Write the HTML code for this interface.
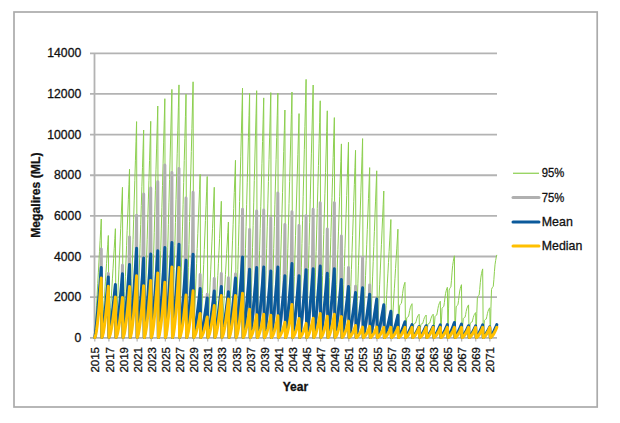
<!DOCTYPE html>
<html><head><meta charset="utf-8"><style>
html,body{margin:0;padding:0;background:#fff;}
body{width:620px;height:423px;overflow:hidden;}
svg{display:block;}
text{font-family:"Liberation Sans",sans-serif;fill:#111;stroke:#111;stroke-width:0.3px;}
.yl{font-size:12.2px;text-anchor:end;}
.xl{font-size:11.5px;text-anchor:end;}
.lg{font-size:12.8px;}
.ttl{font-size:12.2px;font-weight:bold;}
.ttl2{font-size:12px;font-weight:bold;}
</style></head><body>
<svg width="620" height="423" viewBox="0 0 620 423">
<rect x="14" y="12" width="583.2" height="395" fill="#fff" stroke="#ababab" stroke-width="1.7"/>
<line x1="90" y1="337.80" x2="497" y2="337.80" stroke="#b3b3b3" stroke-width="1.8"/>
<line x1="90" y1="297.16" x2="497" y2="297.16" stroke="#b3b3b3" stroke-width="1.8"/>
<line x1="90" y1="256.51" x2="497" y2="256.51" stroke="#b3b3b3" stroke-width="1.8"/>
<line x1="90" y1="215.87" x2="497" y2="215.87" stroke="#b3b3b3" stroke-width="1.8"/>
<line x1="90" y1="175.23" x2="497" y2="175.23" stroke="#b3b3b3" stroke-width="1.8"/>
<line x1="90" y1="134.59" x2="497" y2="134.59" stroke="#b3b3b3" stroke-width="1.8"/>
<line x1="90" y1="93.94" x2="497" y2="93.94" stroke="#b3b3b3" stroke-width="1.8"/>
<line x1="90" y1="53.30" x2="497" y2="53.30" stroke="#b3b3b3" stroke-width="1.8"/>
<line x1="94.5" y1="53" x2="94.5" y2="337.8" stroke="#b3b3b3" stroke-width="1.8"/>
<line x1="94.80" y1="337.5" x2="94.80" y2="341.5" stroke="#b3b3b3" stroke-width="1.2"/>
<line x1="108.91" y1="337.5" x2="108.91" y2="341.5" stroke="#b3b3b3" stroke-width="1.2"/>
<line x1="123.02" y1="337.5" x2="123.02" y2="341.5" stroke="#b3b3b3" stroke-width="1.2"/>
<line x1="137.13" y1="337.5" x2="137.13" y2="341.5" stroke="#b3b3b3" stroke-width="1.2"/>
<line x1="151.24" y1="337.5" x2="151.24" y2="341.5" stroke="#b3b3b3" stroke-width="1.2"/>
<line x1="165.35" y1="337.5" x2="165.35" y2="341.5" stroke="#b3b3b3" stroke-width="1.2"/>
<line x1="179.46" y1="337.5" x2="179.46" y2="341.5" stroke="#b3b3b3" stroke-width="1.2"/>
<line x1="193.57" y1="337.5" x2="193.57" y2="341.5" stroke="#b3b3b3" stroke-width="1.2"/>
<line x1="207.68" y1="337.5" x2="207.68" y2="341.5" stroke="#b3b3b3" stroke-width="1.2"/>
<line x1="221.79" y1="337.5" x2="221.79" y2="341.5" stroke="#b3b3b3" stroke-width="1.2"/>
<line x1="235.90" y1="337.5" x2="235.90" y2="341.5" stroke="#b3b3b3" stroke-width="1.2"/>
<line x1="250.01" y1="337.5" x2="250.01" y2="341.5" stroke="#b3b3b3" stroke-width="1.2"/>
<line x1="264.12" y1="337.5" x2="264.12" y2="341.5" stroke="#b3b3b3" stroke-width="1.2"/>
<line x1="278.23" y1="337.5" x2="278.23" y2="341.5" stroke="#b3b3b3" stroke-width="1.2"/>
<line x1="292.34" y1="337.5" x2="292.34" y2="341.5" stroke="#b3b3b3" stroke-width="1.2"/>
<line x1="306.45" y1="337.5" x2="306.45" y2="341.5" stroke="#b3b3b3" stroke-width="1.2"/>
<line x1="320.56" y1="337.5" x2="320.56" y2="341.5" stroke="#b3b3b3" stroke-width="1.2"/>
<line x1="334.67" y1="337.5" x2="334.67" y2="341.5" stroke="#b3b3b3" stroke-width="1.2"/>
<line x1="348.78" y1="337.5" x2="348.78" y2="341.5" stroke="#b3b3b3" stroke-width="1.2"/>
<line x1="362.89" y1="337.5" x2="362.89" y2="341.5" stroke="#b3b3b3" stroke-width="1.2"/>
<line x1="377.00" y1="337.5" x2="377.00" y2="341.5" stroke="#b3b3b3" stroke-width="1.2"/>
<line x1="391.11" y1="337.5" x2="391.11" y2="341.5" stroke="#b3b3b3" stroke-width="1.2"/>
<line x1="405.22" y1="337.5" x2="405.22" y2="341.5" stroke="#b3b3b3" stroke-width="1.2"/>
<line x1="419.33" y1="337.5" x2="419.33" y2="341.5" stroke="#b3b3b3" stroke-width="1.2"/>
<line x1="433.44" y1="337.5" x2="433.44" y2="341.5" stroke="#b3b3b3" stroke-width="1.2"/>
<line x1="447.55" y1="337.5" x2="447.55" y2="341.5" stroke="#b3b3b3" stroke-width="1.2"/>
<line x1="461.66" y1="337.5" x2="461.66" y2="341.5" stroke="#b3b3b3" stroke-width="1.2"/>
<line x1="475.77" y1="337.5" x2="475.77" y2="341.5" stroke="#b3b3b3" stroke-width="1.2"/>
<line x1="489.88" y1="337.5" x2="489.88" y2="341.5" stroke="#b3b3b3" stroke-width="1.2"/>
<polyline points="94.80,337.50 95.39,326.73 95.98,315.95 96.57,305.18 97.15,294.41 97.74,283.64 98.33,272.86 98.92,262.09 99.51,251.32 100.10,240.55 100.69,229.77 101.27,219.00 101.86,337.50 102.45,328.23 103.04,318.95 103.63,309.68 104.22,300.41 104.81,291.14 105.39,281.86 105.98,272.59 106.57,263.32 107.16,254.05 107.75,244.77 108.34,235.50 108.93,337.50 109.51,327.61 110.10,317.72 110.69,307.83 111.28,297.94 111.87,288.05 112.46,278.15 113.05,268.26 113.63,258.37 114.22,248.48 114.81,238.59 115.40,228.70 115.99,337.50 116.58,323.85 117.17,310.19 117.75,296.54 118.34,282.88 118.93,269.23 119.52,255.57 120.11,241.92 120.70,228.26 121.29,214.61 121.87,200.95 122.46,187.30 123.05,337.50 123.64,322.20 124.23,306.90 124.82,291.60 125.41,276.30 125.99,261.00 126.58,245.70 127.17,230.40 127.76,215.10 128.35,199.80 128.94,184.50 129.53,169.20 130.11,337.50 130.70,317.87 131.29,298.25 131.88,278.62 132.47,258.99 133.06,239.36 133.65,219.74 134.23,200.11 134.82,180.48 135.41,160.85 136.00,141.23 136.59,121.60 137.18,337.50 137.77,318.64 138.35,299.77 138.94,280.91 139.53,262.05 140.12,243.18 140.71,224.32 141.30,205.45 141.89,186.59 142.47,167.73 143.06,148.86 143.65,130.00 144.24,337.50 144.83,317.85 145.42,298.19 146.01,278.54 146.60,258.88 147.18,239.23 147.77,219.57 148.36,199.92 148.95,180.26 149.54,160.61 150.13,140.95 150.72,121.30 151.30,337.50 151.89,316.45 152.48,295.41 153.07,274.36 153.66,253.32 154.25,232.27 154.84,211.23 155.42,190.18 156.01,169.14 156.60,148.09 157.19,127.05 157.78,106.00 158.37,337.50 158.96,315.79 159.54,294.08 160.13,272.37 160.72,250.66 161.31,228.95 161.90,207.25 162.49,185.54 163.08,163.83 163.66,142.12 164.25,120.41 164.84,98.70 165.43,337.50 166.02,314.95 166.61,292.39 167.20,269.84 167.78,247.28 168.37,224.73 168.96,202.17 169.55,179.62 170.14,157.06 170.73,134.51 171.32,111.95 171.90,89.40 172.49,337.50 173.08,314.54 173.67,291.57 174.26,268.61 174.85,245.65 175.44,222.68 176.02,199.72 176.61,176.75 177.20,153.79 177.79,130.83 178.38,107.86 178.97,84.90 179.56,337.50 180.14,315.38 180.73,293.26 181.32,271.15 181.91,249.03 182.50,226.91 183.09,204.79 183.68,182.67 184.26,160.55 184.85,138.44 185.44,116.32 186.03,94.20 186.62,337.50 187.21,314.25 187.80,291.01 188.38,267.76 188.97,244.52 189.56,221.27 190.15,198.03 190.74,174.78 191.33,151.54 191.92,128.29 192.50,105.05 193.09,81.80 193.68,337.50 194.27,322.67 194.86,307.85 195.45,293.02 196.04,278.19 196.62,263.36 197.21,248.54 197.80,233.71 198.39,218.88 198.98,204.05 199.57,189.23 200.16,174.40 200.74,337.50 201.33,322.86 201.92,308.23 202.51,293.59 203.10,278.95 203.69,264.32 204.28,249.68 204.86,235.05 205.45,220.41 206.04,205.77 206.63,191.14 207.22,176.50 207.81,337.50 208.40,323.85 208.98,310.19 209.57,296.54 210.16,282.88 210.75,269.23 211.34,255.57 211.93,241.92 212.52,228.26 213.10,214.61 213.69,200.95 214.28,187.30 214.87,337.50 215.46,325.12 216.05,312.74 216.64,300.35 217.22,287.97 217.81,275.59 218.40,263.21 218.99,250.83 219.58,238.45 220.17,226.06 220.76,213.68 221.34,201.30 221.93,337.50 222.52,327.00 223.11,316.50 223.70,306.00 224.29,295.50 224.88,285.00 225.46,274.50 226.05,264.00 226.64,253.50 227.23,243.00 227.82,232.50 228.41,222.00 229.00,337.50 229.58,321.39 230.17,305.28 230.76,289.17 231.35,273.06 231.94,256.95 232.53,240.85 233.12,224.74 233.70,208.63 234.29,192.52 234.88,176.41 235.47,160.30 236.06,337.50 236.65,314.84 237.24,292.17 237.82,269.51 238.41,246.85 239.00,224.18 239.59,201.52 240.18,178.85 240.77,156.19 241.36,133.53 241.94,110.86 242.53,88.20 243.12,337.50 243.71,315.31 244.30,293.12 244.89,270.93 245.48,248.74 246.07,226.55 246.65,204.35 247.24,182.16 247.83,159.97 248.42,137.78 249.01,115.59 249.60,93.40 250.19,337.50 250.77,315.06 251.36,292.63 251.95,270.19 252.54,247.75 253.13,225.32 253.72,202.88 254.31,180.45 254.89,158.01 255.48,135.57 256.07,113.14 256.66,90.70 257.25,337.50 257.84,315.72 258.43,293.94 259.01,272.15 259.60,250.37 260.19,228.59 260.78,206.81 261.37,185.03 261.96,163.25 262.55,141.46 263.13,119.68 263.72,97.90 264.31,337.50 264.90,315.24 265.49,292.97 266.08,270.71 266.67,248.45 267.25,226.18 267.84,203.92 268.43,181.65 269.02,159.39 269.61,137.13 270.20,114.86 270.79,92.60 271.37,337.50 271.96,315.28 272.55,293.06 273.14,270.85 273.73,248.63 274.32,226.41 274.91,204.19 275.49,181.97 276.08,159.75 276.67,137.54 277.26,115.32 277.85,93.10 278.44,337.50 279.03,316.82 279.61,296.14 280.20,275.45 280.79,254.77 281.38,234.09 281.97,213.41 282.56,192.73 283.15,172.05 283.73,151.36 284.32,130.68 284.91,110.00 285.50,337.50 286.09,315.18 286.68,292.86 287.27,270.55 287.85,248.23 288.44,225.91 289.03,203.59 289.62,181.27 290.21,158.95 290.80,136.64 291.39,114.32 291.97,92.00 292.56,337.50 293.15,317.15 293.74,296.79 294.33,276.44 294.92,256.08 295.51,235.73 296.09,215.37 296.68,195.02 297.27,174.66 297.86,154.31 298.45,133.95 299.04,113.60 299.63,337.50 300.21,314.04 300.80,290.57 301.39,267.11 301.98,243.65 302.57,220.18 303.16,196.72 303.75,173.25 304.33,149.79 304.92,126.33 305.51,102.86 306.10,79.40 306.69,337.50 307.28,314.55 307.87,291.59 308.45,268.64 309.04,245.68 309.63,222.73 310.22,199.77 310.81,176.82 311.40,153.86 311.99,130.91 312.57,107.95 313.16,85.00 313.75,337.50 314.34,315.98 314.93,294.46 315.52,272.95 316.11,251.43 316.69,229.91 317.28,208.39 317.87,186.87 318.46,165.35 319.05,143.84 319.64,122.32 320.23,100.80 320.81,337.50 321.40,316.89 321.99,296.28 322.58,275.67 323.17,255.06 323.76,234.45 324.35,213.85 324.93,193.24 325.52,172.63 326.11,152.02 326.70,131.41 327.29,110.80 327.88,337.50 328.47,317.51 329.05,297.52 329.64,277.53 330.23,257.54 330.82,237.55 331.41,217.55 332.00,197.56 332.59,177.57 333.17,157.58 333.76,137.59 334.35,117.60 334.94,337.50 335.53,319.90 336.12,302.30 336.71,284.70 337.29,267.10 337.88,249.50 338.47,231.90 339.06,214.30 339.65,196.70 340.24,179.10 340.83,161.50 341.41,143.90 342.00,337.50 342.59,319.75 343.18,302.01 343.77,284.26 344.36,266.52 344.95,248.77 345.53,231.03 346.12,213.28 346.71,195.54 347.30,177.79 347.89,160.05 348.48,142.30 349.07,337.50 349.66,320.48 350.24,303.46 350.83,286.45 351.42,269.43 352.01,252.41 352.60,235.39 353.19,218.37 353.78,201.35 354.36,184.34 354.95,167.32 355.54,150.30 356.13,337.50 356.72,319.42 357.31,301.34 357.90,283.25 358.48,265.17 359.07,247.09 359.66,229.01 360.25,210.93 360.84,192.85 361.43,174.76 362.02,156.68 362.60,138.60 363.19,337.50 363.78,322.05 364.37,306.61 364.96,291.16 365.55,275.72 366.14,260.27 366.72,244.83 367.31,229.38 367.90,213.94 368.49,198.49 369.08,183.05 369.67,167.60 370.26,337.50 370.84,322.35 371.43,307.19 372.02,292.04 372.61,276.88 373.20,261.73 373.79,246.57 374.38,231.42 374.96,216.26 375.55,201.11 376.14,185.95 376.73,170.80 377.32,337.50 377.91,324.18 378.50,310.86 379.08,297.55 379.67,284.23 380.26,270.91 380.85,257.59 381.44,244.27 382.03,230.95 382.62,217.64 383.20,204.32 383.79,191.00 384.38,337.50 384.97,326.77 385.56,316.05 386.15,305.32 386.74,294.59 387.32,283.86 387.91,273.14 388.50,262.41 389.09,251.68 389.68,240.95 390.27,230.23 390.86,219.50 391.44,337.50 392.03,327.65 392.62,317.81 393.21,307.96 393.80,298.12 394.39,288.27 394.98,278.43 395.56,268.58 396.15,258.74 396.74,248.89 397.33,239.05 397.92,229.20 398.51,337.50 399.10,318.18 399.68,305.48 400.27,304.38 400.86,303.83 401.45,303.28 402.04,298.86 402.63,293.34 403.22,288.92 403.80,286.16 404.39,283.96 404.98,282.30 405.57,337.50 406.16,325.67 406.75,317.90 407.34,317.22 407.92,316.88 408.51,316.54 409.10,313.84 409.69,310.46 410.28,307.76 410.87,306.07 411.46,304.71 412.04,303.70 412.63,337.50 413.22,329.34 413.81,323.99 414.40,323.52 414.99,323.29 415.58,323.05 416.16,321.19 416.75,318.86 417.34,317.00 417.93,315.83 418.52,314.90 419.11,314.20 419.70,337.50 420.28,329.62 420.87,324.45 421.46,324.00 422.05,323.77 422.64,323.55 423.23,321.75 423.82,319.50 424.40,317.70 424.99,316.57 425.58,315.68 426.17,315.00 426.76,337.50 427.35,329.34 427.94,323.99 428.52,323.52 429.11,323.29 429.70,323.05 430.29,321.19 430.88,318.86 431.47,317.00 432.06,315.83 432.64,314.90 433.23,314.20 433.82,337.50 434.41,324.83 435.00,316.50 435.59,315.78 436.18,315.42 436.76,315.06 437.35,312.16 437.94,308.54 438.53,305.64 439.12,303.83 439.71,302.39 440.30,301.30 440.88,337.50 441.47,319.93 442.06,308.38 442.65,307.38 443.24,306.88 443.83,306.38 444.42,302.36 445.00,297.34 445.59,293.32 446.18,290.81 446.77,288.81 447.36,287.30 447.95,337.50 448.54,308.91 449.13,290.11 449.71,288.48 450.30,287.66 450.89,286.85 451.48,280.31 452.07,272.14 452.66,265.60 453.25,261.52 453.83,258.25 454.42,255.80 455.01,337.50 455.60,319.02 456.19,306.88 456.78,305.82 457.37,305.29 457.95,304.76 458.54,300.54 459.13,295.26 459.72,291.04 460.31,288.40 460.90,286.28 461.49,284.70 462.07,337.50 462.66,326.09 463.25,318.59 463.84,317.94 464.43,317.61 465.02,317.29 465.61,314.68 466.19,311.42 466.78,308.81 467.37,307.18 467.96,305.88 468.55,304.90 469.14,337.50 469.73,328.79 470.31,323.06 470.90,322.56 471.49,322.31 472.08,322.06 472.67,320.07 473.26,317.58 473.85,315.59 474.43,314.34 475.02,313.35 475.61,312.60 476.20,337.50 476.79,313.49 477.38,297.71 477.97,296.34 478.55,295.65 479.14,294.97 479.73,289.48 480.32,282.62 480.91,277.13 481.50,273.70 482.09,270.96 482.67,268.90 483.26,337.50 483.85,327.11 484.44,320.27 485.03,319.68 485.62,319.38 486.21,319.09 486.79,316.71 487.38,313.74 487.97,311.36 488.56,309.88 489.15,308.69 489.74,307.80 490.33,337.50 490.91,308.59 491.50,289.59 492.09,287.94 492.68,287.11 493.27,286.29 493.86,279.68 494.45,271.42 495.03,264.81 495.62,260.68 496.21,257.38 496.80,254.90" fill="none" stroke="#8ccf4f" stroke-width="1.00" stroke-linejoin="round"/>
<polyline points="94.80,337.50 95.39,334.16 95.98,329.82 96.57,325.00 97.15,319.85 97.74,314.43 98.33,308.79 98.92,302.96 99.51,296.96 100.10,290.80 100.69,279.93 101.27,249.10 101.86,337.50 102.45,334.61 103.04,330.85 103.63,326.68 104.22,322.23 104.81,317.54 105.39,312.65 105.98,307.60 106.57,302.41 107.16,297.08 107.75,291.63 108.34,273.40 108.93,337.50 109.51,334.96 110.10,331.66 110.69,328.01 111.28,324.09 111.87,319.98 112.46,315.69 113.05,311.26 113.63,306.70 114.22,302.02 114.81,297.24 115.40,285.50 115.99,337.50 116.58,334.45 117.17,330.49 117.75,326.09 118.34,321.39 118.93,316.45 119.52,311.30 120.11,305.97 120.70,300.49 121.29,294.88 121.87,289.13 122.46,265.20 123.05,337.50 123.64,334.00 124.23,329.47 124.82,324.43 125.41,319.04 125.99,313.38 126.58,307.48 127.17,301.38 127.76,295.10 128.35,288.66 128.94,272.05 129.53,237.00 130.11,337.50 130.70,333.23 131.29,327.70 131.88,321.55 132.47,314.98 133.06,308.06 133.65,300.87 134.23,293.42 134.82,285.76 135.41,277.91 136.00,257.85 136.59,215.20 137.18,337.50 137.77,333.70 138.35,328.76 138.94,323.29 139.53,317.43 140.12,311.27 140.71,304.85 141.30,298.21 141.89,291.39 142.47,279.29 143.06,243.98 143.65,193.90 144.24,337.50 144.83,333.50 145.42,328.31 146.01,322.55 146.60,316.39 147.18,309.91 147.77,303.17 148.36,296.19 148.95,289.01 149.54,276.90 150.13,240.14 150.72,188.00 151.30,337.50 151.89,333.35 152.48,327.96 153.07,321.98 153.66,315.59 154.25,308.86 154.84,301.85 155.42,294.61 156.01,287.15 156.60,274.39 157.19,236.10 157.78,181.80 158.37,337.50 158.96,333.19 159.54,327.61 160.13,321.41 160.72,314.78 161.31,307.80 161.90,300.54 162.49,293.03 163.08,285.30 163.66,267.54 164.25,225.10 164.84,164.90 165.43,337.50 166.02,332.96 166.61,327.07 167.20,320.53 167.78,313.54 168.37,306.18 168.96,298.52 169.55,290.60 170.14,282.45 170.73,270.66 171.32,230.11 171.90,172.60 172.49,337.50 173.08,333.04 173.67,327.25 174.26,320.82 174.85,313.94 175.44,306.71 176.02,299.18 176.61,291.40 177.20,283.38 177.79,269.04 178.38,227.51 178.97,168.60 179.56,337.50 180.14,333.80 180.73,329.01 181.32,323.68 181.91,317.98 182.50,311.99 183.09,305.75 183.68,299.30 184.26,292.66 184.85,280.95 185.44,246.65 186.03,198.00 186.62,337.50 187.21,333.52 187.80,328.35 188.38,322.61 188.97,316.47 189.56,310.01 190.15,303.29 190.74,296.34 191.33,289.18 191.92,278.64 192.50,242.94 193.09,192.30 193.68,337.50 194.27,335.16 194.86,332.13 195.45,328.76 196.04,325.15 196.62,321.36 197.21,317.42 197.80,313.34 198.39,309.14 198.98,304.83 199.57,296.54 200.16,274.60 200.74,337.50 201.33,335.61 201.92,333.16 202.51,330.44 203.10,327.53 203.69,324.47 204.28,321.28 204.86,317.98 205.45,314.59 206.04,311.11 206.63,307.55 207.22,294.30 207.81,337.50 208.40,335.28 208.98,332.39 209.57,329.19 210.16,325.76 210.75,322.16 211.34,318.40 211.93,314.52 212.52,310.53 213.10,306.43 213.69,299.01 214.28,278.40 214.87,337.50 215.46,335.06 216.05,331.90 216.64,328.38 217.22,324.62 217.81,320.67 218.40,316.55 218.99,312.30 219.58,307.92 220.17,303.43 220.76,295.89 221.34,273.60 221.93,337.50 222.52,335.31 223.11,332.48 223.70,329.33 224.29,325.96 224.88,322.42 225.46,318.73 226.05,314.92 226.64,310.99 227.23,306.97 227.82,298.62 228.41,277.80 229.00,337.50 229.58,334.66 230.17,330.97 230.76,326.88 231.35,322.50 231.94,317.90 232.53,313.10 233.12,308.15 233.70,303.05 234.29,297.82 234.88,292.47 235.47,274.10 236.06,337.50 236.65,333.65 237.24,328.66 237.82,323.13 238.41,317.20 239.00,310.97 239.59,304.48 240.18,297.77 240.77,290.87 241.36,283.79 241.94,253.95 242.53,209.20 243.12,337.50 243.71,334.23 244.30,329.99 244.89,325.29 245.48,320.26 246.07,314.96 246.65,309.45 247.24,303.75 247.83,297.88 248.42,291.87 249.01,267.10 249.60,229.40 250.19,337.50 250.77,334.16 251.36,329.82 251.95,325.00 252.54,319.85 253.13,314.43 253.72,308.79 254.31,302.96 254.89,296.96 255.48,286.18 256.07,255.05 256.66,210.90 257.25,337.50 257.84,334.13 258.43,329.76 259.01,324.91 259.60,319.73 260.19,314.27 260.78,308.59 261.37,302.71 261.96,296.67 262.55,285.82 263.13,254.47 263.72,210.00 264.31,337.50 264.90,334.31 265.49,330.18 266.08,325.59 266.67,320.69 267.25,315.52 267.84,310.15 268.43,304.59 269.02,298.87 269.61,289.10 270.20,259.74 270.79,218.10 271.37,337.50 271.96,334.13 272.55,329.76 273.14,324.91 273.73,319.73 274.32,314.27 274.91,308.59 275.49,302.71 276.08,296.67 276.67,278.97 277.26,243.46 277.85,193.10 278.44,337.50 279.03,334.54 279.61,330.71 280.20,326.45 280.79,321.90 281.38,317.11 281.97,312.12 282.56,306.96 283.15,301.65 283.73,291.70 284.32,263.91 284.91,224.50 285.50,337.50 286.09,333.96 286.68,329.38 287.27,324.29 287.85,318.84 288.44,313.11 289.03,307.15 289.62,300.98 290.21,294.64 290.80,286.51 291.39,255.58 291.97,211.70 292.56,337.50 293.15,334.54 293.74,330.71 294.33,326.45 294.92,321.90 295.51,317.11 296.09,312.12 296.68,306.96 297.27,301.65 297.86,292.06 298.45,264.50 299.04,225.40 299.63,337.50 300.21,334.26 300.80,330.05 301.39,325.38 301.98,320.38 302.57,315.13 303.16,309.65 303.75,304.00 304.33,298.17 304.92,288.13 305.51,258.18 306.10,215.70 306.69,337.50 307.28,334.21 307.87,329.95 308.45,325.22 309.04,320.15 309.63,314.83 310.22,309.28 310.81,303.55 311.40,297.65 311.99,285.49 312.57,253.95 313.16,209.20 313.75,337.50 314.34,334.08 314.93,329.64 315.52,324.72 316.11,319.45 316.69,313.91 317.28,308.13 317.87,302.17 318.46,296.03 319.05,282.90 319.64,249.78 320.23,202.80 320.81,337.50 321.40,334.43 321.99,330.44 322.58,326.02 323.17,321.29 323.76,316.31 324.35,311.13 324.93,305.78 325.52,300.26 326.11,293.56 326.70,266.91 327.29,229.10 327.88,337.50 328.47,334.21 329.05,329.95 329.64,325.22 330.23,320.15 330.82,314.83 331.41,309.28 332.00,303.55 332.59,297.65 333.17,282.90 333.76,249.78 334.35,202.80 334.94,337.50 335.53,334.72 336.12,331.12 336.71,327.11 337.29,322.83 337.88,318.33 338.47,313.64 339.06,308.79 339.65,303.80 340.24,296.32 340.83,271.34 341.41,235.90 342.00,337.50 342.59,335.06 343.18,331.90 343.77,328.38 344.36,324.62 344.95,320.67 345.53,316.55 346.12,312.30 346.71,307.92 347.30,303.43 347.89,291.98 348.48,267.60 349.07,337.50 349.66,335.35 350.24,332.57 350.83,329.47 351.42,326.16 352.01,322.68 352.60,319.06 353.19,315.31 353.78,311.46 354.36,307.50 354.95,303.46 355.54,286.20 356.13,337.50 356.72,335.12 357.31,332.04 357.90,328.62 358.48,324.95 359.07,321.10 359.66,317.09 360.25,312.94 360.84,308.67 361.43,304.30 362.02,285.40 362.60,257.50 363.19,337.50 363.78,335.43 364.37,332.75 364.96,329.78 365.55,326.59 366.14,323.24 366.72,319.76 367.31,316.15 367.90,312.44 368.49,308.64 369.08,303.25 369.67,284.90 370.26,337.50 370.84,335.66 371.43,333.28 372.02,330.64 372.61,327.80 373.20,324.83 373.79,321.73 374.38,318.52 374.96,315.23 375.55,311.85 376.14,308.39 376.73,300.60 377.32,337.50 377.91,335.93 378.50,333.90 379.08,331.64 379.67,329.22 380.26,326.68 380.85,324.03 381.44,321.29 382.03,318.47 382.62,315.59 383.20,312.63 383.79,306.20 384.38,337.50 384.97,336.24 385.56,334.61 386.15,332.80 386.74,330.86 387.32,328.82 387.91,326.70 388.50,324.50 389.09,322.25 389.68,319.93 390.27,317.56 390.86,312.70 391.44,337.50 392.03,336.43 392.62,335.05 393.21,333.51 393.80,331.87 394.39,330.14 394.98,328.34 395.56,326.48 396.15,324.57 396.74,322.60 397.33,320.59 397.92,316.70 398.51,337.50 399.10,336.74 399.68,335.76 400.27,334.68 400.86,333.51 401.45,332.29 402.04,331.01 402.63,329.69 403.22,328.34 403.80,326.94 404.39,325.52 404.98,323.20 405.57,337.50 406.16,336.88 406.75,336.08 407.34,335.19 407.92,334.24 408.51,333.24 409.10,332.20 409.69,331.13 410.28,330.02 410.87,328.88 411.46,327.72 412.04,326.10 412.63,337.50 413.22,336.97 413.81,336.29 414.40,335.53 414.99,334.72 415.58,333.87 416.16,332.98 416.75,332.06 417.34,331.12 417.93,330.15 418.52,329.16 419.11,328.00 419.70,337.50 420.28,336.94 420.87,336.20 421.46,335.39 422.05,334.52 422.64,333.61 423.23,332.65 423.82,331.67 424.40,330.66 424.99,329.62 425.58,328.55 426.17,327.20 426.76,337.50 427.35,336.96 427.94,336.26 428.52,335.48 429.11,334.65 429.70,333.77 430.29,332.86 430.88,331.92 431.47,330.95 432.06,329.95 432.64,328.93 433.23,327.70 433.82,337.50 434.41,336.90 435.00,336.12 435.59,335.25 436.18,334.32 436.76,333.34 437.35,332.33 437.94,331.27 438.53,330.19 439.12,329.08 439.71,327.95 440.30,326.40 440.88,337.50 441.47,336.88 442.06,336.08 442.65,335.19 443.24,334.24 443.83,333.24 444.42,332.20 445.00,331.13 445.59,330.02 446.18,328.88 446.77,327.72 447.36,326.10 447.95,337.50 448.54,336.78 449.13,335.85 449.71,334.82 450.30,333.71 450.89,332.55 451.48,331.34 452.07,330.09 452.66,328.80 453.25,327.48 453.83,326.13 454.42,324.00 455.01,337.50 455.60,336.86 456.19,336.03 456.78,335.10 457.37,334.12 457.95,333.08 458.54,332.00 459.13,330.88 459.72,329.73 460.31,328.55 460.90,327.34 461.49,325.60 462.07,337.50 462.66,336.94 463.25,336.20 463.84,335.39 464.43,334.52 465.02,333.61 465.61,332.65 466.19,331.67 466.78,330.66 467.37,329.62 467.96,328.55 468.55,327.20 469.14,337.50 469.73,336.95 470.31,336.23 470.90,335.43 471.49,334.57 472.08,333.67 472.67,332.74 473.26,331.77 473.85,330.77 474.43,329.75 475.02,328.71 475.61,327.40 476.20,337.50 476.79,336.90 477.38,336.12 477.97,335.25 478.55,334.32 479.14,333.34 479.73,332.33 480.32,331.27 480.91,330.19 481.50,329.08 482.09,327.95 482.67,326.40 483.26,337.50 483.85,336.99 484.44,336.32 485.03,335.59 485.62,334.80 486.21,333.97 486.79,333.11 487.38,332.21 487.97,331.29 488.56,330.35 489.15,329.39 489.74,328.30 490.33,337.50 490.91,336.88 491.50,336.08 492.09,335.19 492.68,334.24 493.27,333.24 493.86,332.20 494.45,331.13 495.03,330.02 495.62,328.88 496.21,327.72 496.80,326.10" fill="none" stroke="#b0b0b0" stroke-width="3" stroke-linejoin="round" stroke-linecap="round"/>
<polyline points="94.80,337.50 95.39,333.57 95.98,328.46 96.57,322.80 97.15,316.74 97.74,310.36 98.33,303.73 98.92,296.86 99.51,289.80 100.10,282.56 100.69,275.15 101.27,267.60 101.86,337.50 102.45,334.10 103.04,329.68 103.63,324.78 104.22,319.53 104.81,314.01 105.39,308.27 105.98,302.33 106.57,296.22 107.16,289.95 107.75,283.54 108.34,277.00 108.93,337.50 109.51,334.51 110.10,330.63 110.69,326.33 111.28,321.73 111.87,316.88 112.46,311.84 113.05,306.63 113.63,301.26 114.22,295.76 114.81,290.14 115.40,284.40 115.99,337.50 116.58,333.91 117.17,329.25 117.75,324.08 118.34,318.55 118.93,312.73 119.52,306.67 120.11,300.41 120.70,293.96 121.29,287.35 121.87,280.60 122.46,273.70 123.05,337.50 123.64,333.39 124.23,328.05 124.82,322.13 125.41,315.79 125.99,309.12 126.58,302.18 127.17,295.00 127.76,287.62 128.35,280.04 128.94,272.30 129.53,264.40 130.11,337.50 130.70,332.48 131.29,325.97 131.88,318.74 132.47,311.00 133.06,302.87 133.65,294.40 134.23,285.64 134.82,276.63 135.41,267.39 136.00,257.94 136.59,248.30 137.18,337.50 137.77,333.03 138.35,327.22 138.94,320.78 139.53,313.89 140.12,306.64 140.71,299.09 141.30,291.28 141.89,283.25 142.47,275.01 143.06,266.59 143.65,258.00 144.24,337.50 144.83,332.80 145.42,326.69 146.01,319.92 146.60,312.67 147.18,305.04 147.77,297.11 148.36,288.90 148.95,280.45 149.54,271.79 150.13,262.93 150.72,253.90 151.30,337.50 151.89,332.62 152.48,326.28 153.07,319.24 153.66,311.72 154.25,303.80 154.84,295.56 155.42,287.04 156.01,278.27 156.60,269.28 157.19,260.08 157.78,250.70 158.37,337.50 158.96,332.44 159.54,325.86 160.13,318.57 160.72,310.77 161.31,302.56 161.90,294.01 162.49,285.18 163.08,276.08 163.66,266.76 164.25,257.23 164.84,247.50 165.43,337.50 166.02,332.16 166.61,325.23 167.20,317.54 167.78,309.31 168.37,300.66 168.96,291.65 169.55,282.33 170.14,272.74 170.73,262.91 171.32,252.86 171.90,242.60 172.49,337.50 173.08,332.25 173.67,325.44 174.26,317.88 174.85,309.79 175.44,301.28 176.02,292.42 176.61,283.26 177.20,273.83 177.79,264.17 178.38,254.28 178.97,244.20 179.56,337.50 180.14,333.15 180.73,327.51 181.32,321.24 181.91,314.54 182.50,307.49 183.09,300.15 183.68,292.56 184.26,284.75 184.85,276.74 185.44,268.55 186.03,260.20 186.62,337.50 187.21,332.81 187.80,326.73 188.38,319.98 188.97,312.76 189.56,305.16 190.15,297.25 190.74,289.07 191.33,280.66 191.92,272.03 192.50,263.20 193.09,254.20 193.68,337.50 194.27,334.75 194.86,331.18 195.45,327.22 196.04,322.98 196.62,318.52 197.21,313.87 197.80,309.07 198.39,304.13 198.98,299.06 199.57,293.88 200.16,288.60 200.74,337.50 201.33,335.28 201.92,332.39 202.51,329.19 203.10,325.77 203.69,322.16 204.28,318.41 204.86,314.54 205.45,310.55 206.04,306.45 206.63,302.27 207.22,298.00 207.81,337.50 208.40,334.88 208.98,331.49 209.57,327.72 210.16,323.69 210.75,319.45 211.34,315.03 211.93,310.47 212.52,305.77 213.10,300.95 213.69,296.03 214.28,291.00 214.87,337.50 215.46,334.63 216.05,330.91 216.64,326.77 217.22,322.35 217.81,317.70 218.40,312.86 218.99,307.85 219.58,302.70 220.17,297.41 220.76,292.01 221.34,286.50 221.93,337.50 222.52,334.93 223.11,331.59 223.70,327.89 224.29,323.93 224.88,319.76 225.46,315.42 226.05,310.93 226.64,306.31 227.23,301.58 227.82,296.74 228.41,291.80 229.00,337.50 229.58,334.16 230.17,329.82 230.76,325.01 231.35,319.86 231.94,314.44 232.53,308.80 233.12,302.97 233.70,296.97 234.29,290.81 234.88,284.52 235.47,278.10 236.06,337.50 236.65,332.98 237.24,327.11 237.82,320.59 238.41,313.62 239.00,306.29 239.59,298.65 240.18,290.76 240.77,282.64 241.36,274.31 241.94,265.79 242.53,257.10 243.12,337.50 243.71,333.66 244.30,328.67 244.89,323.14 245.48,317.21 246.07,310.98 246.65,304.50 247.24,297.79 247.83,290.89 248.42,283.82 249.01,276.58 249.60,269.20 250.19,337.50 250.77,333.57 251.36,328.46 251.95,322.80 252.54,316.74 253.13,310.36 253.72,303.73 254.31,296.86 254.89,289.80 255.48,282.56 256.07,275.15 256.66,267.60 257.25,337.50 257.84,333.54 258.43,328.40 259.01,322.69 259.60,316.59 260.19,310.17 260.78,303.48 261.37,296.57 261.96,289.46 262.55,282.17 263.13,274.71 263.72,267.10 264.31,337.50 264.90,333.75 265.49,328.89 266.08,323.49 266.67,317.72 267.25,311.64 267.84,305.32 268.43,298.78 269.02,292.05 269.61,285.15 270.20,278.10 270.79,270.90 271.37,337.50 271.96,333.54 272.55,328.40 273.14,322.69 273.73,316.59 274.32,310.17 274.91,303.48 275.49,296.57 276.08,289.46 276.67,282.17 277.26,274.71 277.85,267.10 278.44,337.50 279.03,334.02 279.61,329.51 280.20,324.50 280.79,319.14 281.38,313.51 281.97,307.64 282.56,301.57 283.15,295.33 283.73,288.93 284.32,282.38 284.91,275.70 285.50,337.50 286.09,333.34 286.68,327.95 287.27,321.96 287.85,315.55 288.44,308.81 289.03,301.79 289.62,294.54 290.21,287.07 290.80,279.41 291.39,271.59 291.97,263.60 292.56,337.50 293.15,334.02 293.74,329.51 294.33,324.50 294.92,319.14 295.51,313.51 296.09,307.64 296.68,301.57 297.27,295.33 297.86,288.93 298.45,282.38 299.04,275.70 299.63,337.50 300.21,333.68 300.80,328.73 301.39,323.24 301.98,317.36 302.57,311.18 303.16,304.74 303.75,298.08 304.33,291.23 304.92,284.21 305.51,277.03 306.10,269.70 306.69,337.50 307.28,333.63 307.87,328.62 308.45,323.05 309.04,317.09 309.63,310.83 310.22,304.31 310.81,297.56 311.40,290.62 311.99,283.50 312.57,276.22 313.16,268.80 313.75,337.50 314.34,333.48 314.93,328.26 315.52,322.46 316.11,316.26 316.69,309.74 317.28,302.95 317.87,295.93 318.46,288.71 319.05,281.30 319.64,273.73 320.23,266.00 320.81,337.50 321.40,333.89 321.99,329.20 322.58,324.00 323.17,318.43 323.76,312.58 324.35,306.48 324.93,300.18 325.52,293.69 326.11,287.04 326.70,280.24 327.29,273.30 327.88,337.50 328.47,333.63 329.05,328.62 329.64,323.05 330.23,317.09 330.82,310.83 331.41,304.31 332.00,297.56 332.59,290.62 333.17,283.50 333.76,276.22 334.35,268.80 334.94,337.50 335.53,334.23 336.12,329.99 336.71,325.28 337.29,320.24 337.88,314.94 338.47,309.43 339.06,303.72 339.65,297.85 340.24,291.83 340.83,285.68 341.41,279.40 342.00,337.50 342.59,334.63 343.18,330.91 343.77,326.77 344.36,322.35 344.95,317.70 345.53,312.86 346.12,307.85 346.71,302.70 347.30,297.41 347.89,292.01 348.48,286.50 349.07,337.50 349.66,334.97 350.24,331.69 350.83,328.06 351.42,324.16 352.01,320.07 352.60,315.81 353.19,311.40 353.78,306.86 354.36,302.21 354.95,297.45 355.54,292.60 356.13,337.50 356.72,334.70 357.31,331.07 357.90,327.05 358.48,322.74 359.07,318.20 359.66,313.49 360.25,308.61 360.84,303.58 361.43,298.44 362.02,293.17 362.60,287.80 363.19,337.50 363.78,335.07 364.37,331.91 364.96,328.41 365.55,324.67 366.14,320.73 366.72,316.63 367.31,312.39 367.90,308.02 368.49,303.55 369.08,298.97 369.67,294.30 370.26,337.50 370.84,335.34 371.43,332.54 372.02,329.42 372.61,326.09 373.20,322.59 373.79,318.95 374.38,315.18 374.96,311.30 375.55,307.32 376.14,303.25 376.73,299.10 377.32,337.50 377.91,335.65 378.50,333.26 379.08,330.60 379.67,327.76 380.26,324.77 380.85,321.65 381.44,318.43 382.03,315.12 382.62,311.72 383.20,308.24 383.79,304.70 384.38,337.50 384.97,336.02 385.56,334.10 386.15,331.97 386.74,329.69 387.32,327.29 387.91,324.79 388.50,322.21 389.09,319.55 389.68,316.83 390.27,314.04 390.86,311.20 391.44,337.50 392.03,336.25 392.62,334.62 393.21,332.81 393.80,330.88 394.39,328.84 394.98,326.73 395.56,324.54 396.15,322.28 396.74,319.97 397.33,317.61 397.92,315.20 398.51,337.50 399.10,336.61 399.68,335.46 400.27,334.18 400.86,332.81 401.45,331.37 402.04,329.87 402.63,328.31 403.22,326.72 403.80,325.08 404.39,323.41 404.98,321.70 405.57,337.50 406.16,336.77 406.75,335.83 407.34,334.79 407.92,333.67 408.51,332.49 409.10,331.27 409.69,330.00 410.28,328.70 410.87,327.36 411.46,325.99 412.04,324.60 412.63,337.50 413.22,336.88 413.81,336.08 414.40,335.19 414.99,334.23 415.58,333.23 416.16,332.19 416.75,331.11 417.34,329.99 417.93,328.85 418.52,327.69 419.11,326.50 419.70,337.50 420.28,336.84 420.87,335.97 421.46,335.02 422.05,334.00 422.64,332.92 423.23,331.80 423.82,330.64 424.40,329.45 424.99,328.23 425.58,326.98 426.17,325.70 426.76,337.50 427.35,336.86 427.94,336.04 428.52,335.12 429.11,334.14 429.70,333.11 430.29,332.04 430.88,330.93 431.47,329.79 432.06,328.62 432.64,327.42 433.23,326.20 433.82,337.50 434.41,336.79 435.00,335.87 435.59,334.85 436.18,333.76 436.76,332.61 437.35,331.41 437.94,330.17 438.53,328.90 439.12,327.60 439.71,326.26 440.30,324.90 440.88,337.50 441.47,336.77 442.06,335.83 442.65,334.79 443.24,333.67 443.83,332.49 444.42,331.27 445.00,330.00 445.59,328.70 446.18,327.36 446.77,325.99 447.36,324.60 447.95,337.50 448.54,336.66 449.13,335.56 449.71,334.35 450.30,333.04 450.89,331.68 451.48,330.25 452.07,328.78 452.66,327.26 453.25,325.71 453.83,324.12 454.42,322.50 455.01,337.50 455.60,336.75 456.19,335.77 456.78,334.68 457.37,333.52 457.95,332.30 458.54,331.03 459.13,329.71 459.72,328.36 460.31,326.97 460.90,325.55 461.49,324.10 462.07,337.50 462.66,336.84 463.25,335.97 463.84,335.02 464.43,334.00 465.02,332.92 465.61,331.80 466.19,330.64 466.78,329.45 467.37,328.23 467.96,326.98 468.55,325.70 469.14,337.50 469.73,336.85 470.31,336.00 470.90,335.06 471.49,334.05 472.08,333.00 472.67,331.90 473.26,330.76 473.85,329.58 474.43,328.38 475.02,327.15 475.61,325.90 476.20,337.50 476.79,336.79 477.38,335.87 477.97,334.85 478.55,333.76 479.14,332.61 479.73,331.41 480.32,330.17 480.91,328.90 481.50,327.60 482.09,326.26 482.67,324.90 483.26,337.50 483.85,336.90 484.44,336.12 485.03,335.25 485.62,334.32 486.21,333.35 486.79,332.33 487.38,331.28 487.97,330.20 488.56,329.09 489.15,327.96 489.74,326.80 490.33,337.50 490.91,336.77 491.50,335.83 492.09,334.79 492.68,333.67 493.27,332.49 493.86,331.27 494.45,330.00 495.03,328.70 495.62,327.36 496.21,325.99 496.80,324.60" fill="none" stroke="#0b5a9b" stroke-width="3" stroke-linejoin="round" stroke-linecap="round"/>
<polyline points="94.80,337.50 95.39,336.22 95.98,333.62 96.57,330.07 97.15,325.73 97.74,320.68 98.33,314.98 98.92,308.68 99.51,301.81 100.10,294.41 100.69,286.50 101.27,278.10 101.86,337.50 102.45,336.39 103.04,334.15 103.63,331.08 104.22,327.33 104.81,322.97 105.39,318.05 105.98,312.61 106.57,306.68 107.16,300.29 107.75,293.46 108.34,286.20 108.93,337.50 109.51,336.63 110.10,334.86 110.69,332.45 111.28,329.49 111.87,326.06 112.46,322.18 113.05,317.90 113.63,313.23 114.22,308.20 114.81,302.81 115.40,297.10 115.99,337.50 116.58,336.64 117.17,334.88 117.75,332.50 118.34,329.57 118.93,326.17 119.52,322.33 120.11,318.09 120.70,313.47 121.29,308.49 121.87,303.16 122.46,297.50 123.05,337.50 123.64,336.40 124.23,334.17 124.82,331.12 125.41,327.39 125.99,323.06 126.58,318.16 127.17,312.75 127.76,306.86 128.35,300.51 128.94,293.71 129.53,286.50 130.11,337.50 130.70,336.17 131.29,333.47 131.88,329.78 132.47,325.27 133.06,320.03 133.65,314.11 134.23,307.56 134.82,300.43 135.41,292.74 136.00,284.53 136.59,275.80 137.18,337.50 137.77,336.38 138.35,334.11 138.94,331.02 139.53,327.23 140.12,322.83 140.71,317.86 141.30,312.37 141.89,306.38 142.47,299.93 143.06,293.03 143.65,285.70 144.24,337.50 144.83,336.27 145.42,333.77 146.01,330.36 146.60,326.18 147.18,321.33 147.77,315.85 148.36,309.79 148.95,303.20 149.54,296.08 150.13,288.48 150.72,280.40 151.30,337.50 151.89,336.11 152.48,333.28 153.07,329.42 153.66,324.70 154.25,319.20 154.84,313.01 155.42,306.16 156.01,298.69 156.60,290.64 157.19,282.04 157.78,272.90 158.37,337.50 158.96,336.31 159.54,333.89 160.13,330.60 160.72,326.56 161.31,321.87 161.90,316.57 162.49,310.72 163.08,304.34 163.66,297.46 164.25,290.11 164.84,282.30 165.43,337.50 166.02,335.98 166.61,332.90 167.20,328.69 167.78,323.55 168.37,317.56 168.96,310.81 169.55,303.34 170.14,295.21 170.73,286.43 171.32,277.06 171.90,267.10 172.49,337.50 173.08,335.99 173.67,332.92 174.26,328.74 174.85,323.63 175.44,317.67 176.02,310.96 176.61,303.54 177.20,295.45 177.79,286.72 178.38,277.40 178.97,267.50 179.56,337.50 180.14,336.59 180.73,334.73 181.32,332.20 181.91,329.10 182.50,325.49 183.09,321.42 183.68,316.93 184.26,312.03 184.85,306.74 185.44,301.10 186.03,295.10 186.62,337.50 187.21,336.49 187.80,334.45 188.38,331.66 188.97,328.24 189.56,324.27 190.15,319.79 190.74,314.84 191.33,309.44 191.92,303.63 192.50,297.41 193.09,290.80 193.68,337.50 194.27,336.98 194.86,335.92 195.45,334.49 196.04,332.72 196.62,330.67 197.21,328.36 197.80,325.81 198.39,323.02 198.98,320.02 199.57,316.81 200.16,313.40 200.74,337.50 201.33,337.06 201.92,336.15 202.51,334.92 203.10,333.42 203.69,331.67 204.28,329.69 204.86,327.50 205.45,325.12 206.04,322.56 206.63,319.81 207.22,316.90 207.81,337.50 208.40,336.81 208.98,335.41 209.57,333.51 210.16,331.18 210.75,328.47 211.34,325.41 211.93,322.02 212.52,318.34 213.10,314.36 213.69,310.11 214.28,305.60 214.87,337.50 215.46,336.60 216.05,334.76 216.64,332.26 217.22,329.20 217.81,325.63 218.40,321.61 218.99,317.17 219.58,312.33 220.17,307.11 220.76,301.53 221.34,295.60 221.93,337.50 222.52,336.67 223.11,334.98 223.70,332.67 224.29,329.85 224.88,326.57 225.46,322.86 226.05,318.77 226.64,314.31 227.23,309.50 227.82,304.36 228.41,298.90 229.00,337.50 229.58,336.60 230.17,334.76 230.76,332.26 231.35,329.20 231.94,325.63 232.53,321.61 233.12,317.17 233.70,312.33 234.29,307.11 234.88,301.53 235.47,295.60 236.06,337.50 236.65,336.54 237.24,334.60 237.82,331.96 238.41,328.72 239.00,324.95 239.59,320.70 240.18,316.01 240.77,310.89 241.36,305.37 241.94,299.47 242.53,293.20 243.12,337.50 243.71,336.89 244.30,335.66 244.89,333.97 245.48,331.91 246.07,329.51 246.65,326.81 247.24,323.82 247.83,320.56 248.42,317.04 249.01,313.29 249.60,309.30 250.19,337.50 250.77,337.01 251.36,336.01 251.95,334.65 252.54,332.98 253.13,331.04 253.72,328.86 254.31,326.44 254.89,323.80 255.48,320.96 256.07,317.92 256.66,314.70 257.25,337.50 257.84,337.00 258.43,335.98 259.01,334.59 259.60,332.88 260.19,330.90 260.78,328.67 261.37,326.19 261.96,323.50 262.55,320.60 263.13,317.50 263.72,314.20 264.31,337.50 264.90,337.02 265.49,336.05 266.08,334.72 266.67,333.10 267.25,331.21 267.84,329.08 268.43,326.73 269.02,324.16 269.61,321.40 270.20,318.44 270.79,315.30 271.37,337.50 271.96,337.03 272.55,336.08 273.14,334.79 273.73,333.20 274.32,331.35 274.91,329.27 275.49,326.97 276.08,324.46 276.67,321.76 277.26,318.87 277.85,315.80 278.44,337.50 279.03,337.17 279.61,336.50 280.20,335.59 280.79,334.47 281.38,333.17 281.97,331.70 282.56,330.08 283.15,328.31 283.73,326.40 284.32,324.36 284.91,322.20 285.50,337.50 286.09,336.79 286.68,335.34 287.27,333.37 287.85,330.96 288.44,328.15 289.03,324.99 289.62,321.49 290.21,317.67 290.80,313.56 291.39,309.17 291.97,304.50 292.56,337.50 293.15,337.09 293.74,336.26 294.33,335.12 294.92,333.73 295.51,332.12 296.09,330.30 296.68,328.28 297.27,326.09 297.86,323.72 298.45,321.19 299.04,318.50 299.63,337.50 300.21,337.20 300.80,336.58 301.39,335.74 301.98,334.71 302.57,333.51 303.16,332.15 303.75,330.66 304.33,329.03 304.92,327.27 305.51,325.39 306.10,323.40 306.69,337.50 307.28,337.08 307.87,336.24 308.45,335.09 309.04,333.68 309.63,332.03 310.22,330.18 310.81,328.14 311.40,325.90 311.99,323.50 312.57,320.93 313.16,318.20 313.75,337.50 314.34,336.98 314.93,335.92 315.52,334.49 316.11,332.72 316.69,330.67 317.28,328.36 317.87,325.81 318.46,323.02 319.05,320.02 319.64,316.81 320.23,313.40 320.81,337.50 321.40,337.04 321.99,336.11 322.58,334.85 323.17,333.30 323.76,331.50 324.35,329.46 324.93,327.21 325.52,324.76 326.11,322.12 326.70,319.30 327.29,316.30 327.88,337.50 328.47,337.00 329.05,335.98 329.64,334.59 330.23,332.88 330.82,330.90 331.41,328.67 332.00,326.19 332.59,323.50 333.17,320.60 333.76,317.50 334.35,314.20 334.94,337.50 335.53,337.05 336.12,336.13 336.71,334.89 337.29,333.36 337.88,331.58 338.47,329.58 339.06,327.36 339.65,324.94 340.24,322.34 340.83,319.56 341.41,316.60 342.00,337.50 342.59,337.15 343.18,336.43 343.77,335.45 344.36,334.25 344.95,332.86 345.53,331.28 346.12,329.54 346.71,327.65 347.30,325.60 347.89,323.42 348.48,321.10 349.07,337.50 349.66,337.24 350.24,336.72 350.83,336.00 351.42,335.12 352.01,334.10 352.60,332.95 353.19,331.68 353.78,330.29 354.36,328.80 354.95,327.20 355.54,325.50 356.13,337.50 356.72,337.28 357.31,336.82 357.90,336.20 358.48,335.44 359.07,334.55 359.66,333.56 360.25,332.45 360.84,331.25 361.43,329.96 362.02,328.57 362.60,327.10 363.19,337.50 363.78,337.26 364.37,336.77 364.96,336.10 365.55,335.28 366.14,334.33 366.72,333.25 367.31,332.07 367.90,330.77 368.49,329.38 369.08,327.88 369.67,326.30 370.26,337.50 370.84,337.28 371.43,336.82 372.02,336.20 372.61,335.44 373.20,334.55 373.79,333.56 374.38,332.45 374.96,331.25 375.55,329.96 376.14,328.57 376.73,327.10 377.32,337.50 377.91,337.28 378.50,336.83 379.08,336.22 379.67,335.48 380.26,334.61 380.85,333.63 381.44,332.55 382.03,331.37 382.62,330.10 383.20,328.74 383.79,327.30 384.38,337.50 384.97,337.28 385.56,336.83 386.15,336.22 386.74,335.48 387.32,334.61 387.91,333.63 388.50,332.55 389.09,331.37 389.68,330.10 390.27,328.74 390.86,327.30 391.44,337.50 392.03,337.28 392.62,336.83 393.21,336.22 393.80,335.48 394.39,334.61 394.98,333.63 395.56,332.55 396.15,331.37 396.74,330.10 397.33,328.74 397.92,327.30 398.51,337.50 399.10,337.28 399.68,336.83 400.27,336.22 400.86,335.48 401.45,334.61 402.04,333.63 402.63,332.55 403.22,331.37 403.80,330.10 404.39,328.74 404.98,327.30 405.57,337.50 406.16,337.28 406.75,336.83 407.34,336.22 407.92,335.48 408.51,334.61 409.10,333.63 409.69,332.55 410.28,331.37 410.87,330.10 411.46,328.74 412.04,327.30 412.63,337.50 413.22,337.28 413.81,336.83 414.40,336.22 414.99,335.48 415.58,334.61 416.16,333.63 416.75,332.55 417.34,331.37 417.93,330.10 418.52,328.74 419.11,327.30 419.70,337.50 420.28,337.28 420.87,336.83 421.46,336.22 422.05,335.48 422.64,334.61 423.23,333.63 423.82,332.55 424.40,331.37 424.99,330.10 425.58,328.74 426.17,327.30 426.76,337.50 427.35,337.28 427.94,336.83 428.52,336.22 429.11,335.48 429.70,334.61 430.29,333.63 430.88,332.55 431.47,331.37 432.06,330.10 432.64,328.74 433.23,327.30 433.82,337.50 434.41,337.28 435.00,336.83 435.59,336.22 436.18,335.48 436.76,334.61 437.35,333.63 437.94,332.55 438.53,331.37 439.12,330.10 439.71,328.74 440.30,327.30 440.88,337.50 441.47,337.28 442.06,336.83 442.65,336.22 443.24,335.48 443.83,334.61 444.42,333.63 445.00,332.55 445.59,331.37 446.18,330.10 446.77,328.74 447.36,327.30 447.95,337.50 448.54,337.28 449.13,336.83 449.71,336.22 450.30,335.48 450.89,334.61 451.48,333.63 452.07,332.55 452.66,331.37 453.25,330.10 453.83,328.74 454.42,327.30 455.01,337.50 455.60,337.28 456.19,336.83 456.78,336.22 457.37,335.48 457.95,334.61 458.54,333.63 459.13,332.55 459.72,331.37 460.31,330.10 460.90,328.74 461.49,327.30 462.07,337.50 462.66,337.28 463.25,336.83 463.84,336.22 464.43,335.48 465.02,334.61 465.61,333.63 466.19,332.55 466.78,331.37 467.37,330.10 467.96,328.74 468.55,327.30 469.14,337.50 469.73,337.28 470.31,336.83 470.90,336.22 471.49,335.48 472.08,334.61 472.67,333.63 473.26,332.55 473.85,331.37 474.43,330.10 475.02,328.74 475.61,327.30 476.20,337.50 476.79,337.28 477.38,336.83 477.97,336.22 478.55,335.48 479.14,334.61 479.73,333.63 480.32,332.55 480.91,331.37 481.50,330.10 482.09,328.74 482.67,327.30 483.26,337.50 483.85,337.28 484.44,336.83 485.03,336.22 485.62,335.48 486.21,334.61 486.79,333.63 487.38,332.55 487.97,331.37 488.56,330.10 489.15,328.74 489.74,327.30 490.33,337.50 490.91,337.28 491.50,336.83 492.09,336.22 492.68,335.48 493.27,334.61 493.86,333.63 494.45,332.55 495.03,331.37 495.62,330.10 496.21,328.74 496.80,327.30" fill="none" stroke="#ffc000" stroke-width="3" stroke-linejoin="round" stroke-linecap="round"/>
<text x="81.2" y="341.90" class="yl">0</text>
<text x="81.2" y="301.26" class="yl">2000</text>
<text x="81.2" y="260.61" class="yl">4000</text>
<text x="81.2" y="219.97" class="yl">6000</text>
<text x="81.2" y="179.33" class="yl">8000</text>
<text x="81.2" y="138.69" class="yl">10000</text>
<text x="81.2" y="98.04" class="yl">12000</text>
<text x="81.2" y="57.40" class="yl">14000</text>
<text transform="translate(99.40,347.0) rotate(-90)" class="xl">2015</text>
<text transform="translate(113.51,347.0) rotate(-90)" class="xl">2017</text>
<text transform="translate(127.62,347.0) rotate(-90)" class="xl">2019</text>
<text transform="translate(141.73,347.0) rotate(-90)" class="xl">2021</text>
<text transform="translate(155.84,347.0) rotate(-90)" class="xl">2023</text>
<text transform="translate(169.95,347.0) rotate(-90)" class="xl">2025</text>
<text transform="translate(184.06,347.0) rotate(-90)" class="xl">2027</text>
<text transform="translate(198.17,347.0) rotate(-90)" class="xl">2029</text>
<text transform="translate(212.28,347.0) rotate(-90)" class="xl">2031</text>
<text transform="translate(226.39,347.0) rotate(-90)" class="xl">2033</text>
<text transform="translate(240.50,347.0) rotate(-90)" class="xl">2035</text>
<text transform="translate(254.61,347.0) rotate(-90)" class="xl">2037</text>
<text transform="translate(268.72,347.0) rotate(-90)" class="xl">2039</text>
<text transform="translate(282.83,347.0) rotate(-90)" class="xl">2041</text>
<text transform="translate(296.94,347.0) rotate(-90)" class="xl">2043</text>
<text transform="translate(311.05,347.0) rotate(-90)" class="xl">2045</text>
<text transform="translate(325.16,347.0) rotate(-90)" class="xl">2047</text>
<text transform="translate(339.27,347.0) rotate(-90)" class="xl">2049</text>
<text transform="translate(353.38,347.0) rotate(-90)" class="xl">2051</text>
<text transform="translate(367.49,347.0) rotate(-90)" class="xl">2053</text>
<text transform="translate(381.60,347.0) rotate(-90)" class="xl">2055</text>
<text transform="translate(395.71,347.0) rotate(-90)" class="xl">2057</text>
<text transform="translate(409.82,347.0) rotate(-90)" class="xl">2059</text>
<text transform="translate(423.93,347.0) rotate(-90)" class="xl">2061</text>
<text transform="translate(438.04,347.0) rotate(-90)" class="xl">2063</text>
<text transform="translate(452.15,347.0) rotate(-90)" class="xl">2065</text>
<text transform="translate(466.26,347.0) rotate(-90)" class="xl">2067</text>
<text transform="translate(480.37,347.0) rotate(-90)" class="xl">2069</text>
<text transform="translate(494.48,347.0) rotate(-90)" class="xl">2071</text>
<text transform="translate(39.8,195.2) rotate(-90)" class="ttl" text-anchor="middle">Megalires (ML)</text>
<text x="295.4" y="390.6" class="ttl2" text-anchor="middle">Year</text>
<line x1="513" y1="173.3" x2="539" y2="173.3" stroke="#9ad565" stroke-width="1.4" stroke-linecap="butt"/>
<text x="541.8" y="177.2" class="lg" textLength="22.6" lengthAdjust="spacingAndGlyphs">95%</text>
<line x1="513" y1="197.6" x2="539" y2="197.6" stroke="#b0b0b0" stroke-width="3.0" stroke-linecap="round"/>
<text x="541.8" y="201.5" class="lg" textLength="22.6" lengthAdjust="spacingAndGlyphs">75%</text>
<line x1="513" y1="221.9" x2="539" y2="221.9" stroke="#0b5a9b" stroke-width="3.0" stroke-linecap="round"/>
<text x="541.8" y="225.8" class="lg" textLength="31" lengthAdjust="spacingAndGlyphs">Mean</text>
<line x1="513" y1="246.1" x2="539" y2="246.1" stroke="#ffc000" stroke-width="3.0" stroke-linecap="round"/>
<text x="541.8" y="250.0" class="lg" textLength="40.5" lengthAdjust="spacingAndGlyphs">Median</text>
</svg>
</body></html>
